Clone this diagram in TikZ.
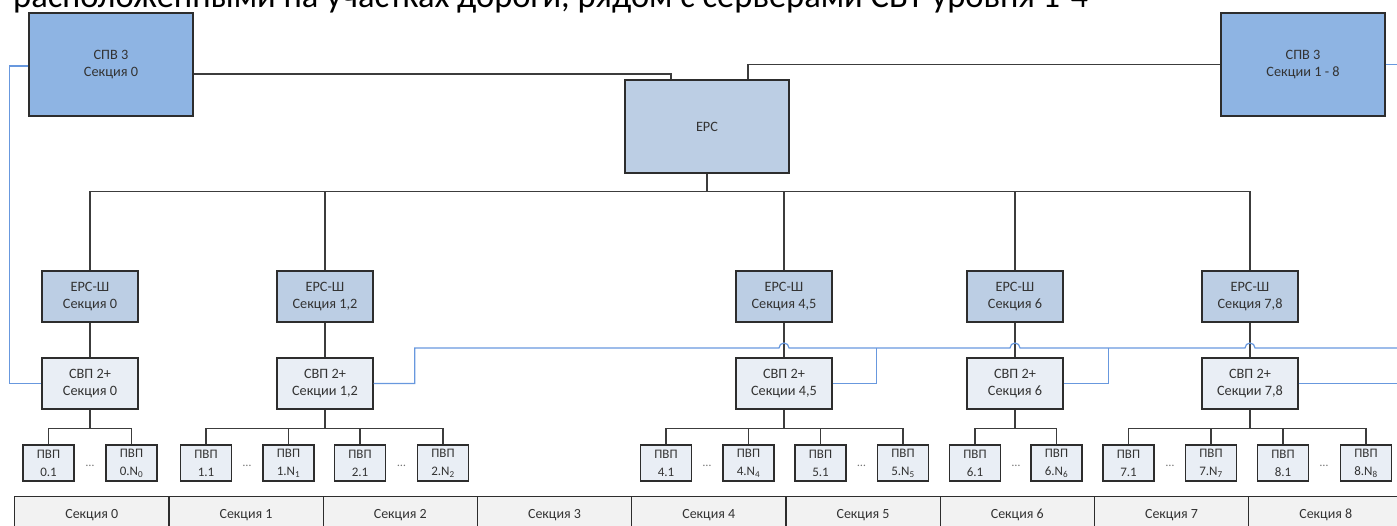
\documentclass[tikz,border=0pt]{standalone}
\usepackage{fontspec}
\setmainfont{Carlito}
\usepackage{graphicx}
\definecolor{spvc}{RGB}{142,180,227}
\definecolor{ercc}{RGB}{188,206,228}
\definecolor{svpc}{RGB}{233,238,245}
\definecolor{cellc}{RGB}{242,242,242}
\definecolor{bordc}{RGB}{45,45,45}
\definecolor{linec}{RGB}{60,60,60}
\definecolor{netc}{RGB}{104,152,222}
\tikzset{
  box/.style={draw=bordc, line width=1.3pt, inner sep=0pt, align=center, font=\fontsize{14.3}{17}\selectfont, text=black!80},
  spv/.style={box, fill=spvc, minimum width=164pt, minimum height=103pt},
  erc/.style={box, fill=ercc, minimum width=164pt, minimum height=93pt},
  ercsh/.style={box, fill=ercc, minimum width=96pt, minimum height=51pt},
  svp/.style={box, fill=svpc, minimum width=96pt, minimum height=51pt},
  pvp/.style={box, fill=svpc, minimum width=51pt, minimum height=36pt, font=\fontsize{13}{18}\selectfont},
  cell/.style={draw=bordc, line width=1.3pt, fill=cellc, inner sep=0pt, anchor=north west, minimum width=154.25pt, minimum height=38pt, text height=9.5pt, text depth=3pt, font=\fontsize{14}{17}\selectfont, text=black!80},
  conn/.style={draw=linec, line width=1.1pt},
  net/.style={draw=netc, line width=1.2pt},
  dots/.style={inner sep=0pt, font=\fontsize{12}{12}\selectfont, text=black!55}
}
\begin{document}
\begin{tikzpicture}[x=1pt,y=-1pt]
\useasboundingbox (0,0) rectangle (1397,526);
\clip (0,0) rectangle (1397,526);

% heading (cut off at the top)
\node[anchor=base west, inner sep=0pt] (title) at (13,8) {\resizebox{1075pt}{!}{\fontsize{30}{30}\selectfont расположенными на участках дороги, рядом с серверами СВТ уровня 1-4}};

% top level
\node[spv] (spvL) at (111,64.5) {СПВ 3\\Секция 0};
\node[spv] (spvR) at (1303,64.5) {СПВ 3\\Секции 1 - 8};
\node[erc] (erc) at (707,126.5) {ЕРС};

% ERC-Sh
\node[ercsh] (e0) at (90,296.5) {ЕРС-Ш\\Секция 0};
\node[ercsh] (e12) at (325,296.5) {ЕРС-Ш\\Секция 1,2};
\node[ercsh] (e45) at (784,296.5) {ЕРС-Ш\\Секция 4,5};
\node[ercsh] (e6) at (1015,296.5) {ЕРС-Ш\\Секция 6};
\node[ercsh] (e78) at (1250,296.5) {ЕРС-Ш\\Секция 7,8};

% SVP 2+
\node[svp] (s0) at (90,383.5) {СВП 2+\\Секция 0};
\node[svp] (s12) at (325,383.5) {СВП 2+\\Секции 1,2};
\node[svp] (s45) at (784,383.5) {СВП 2+\\Секции 4,5};
\node[svp] (s6) at (1015,383.5) {СВП 2+\\Секция 6};
\node[svp] (s78) at (1250,383.5) {СВП 2+\\Секции 7,8};

% PVP
\node[pvp] (p01) at (48.5,463) {ПВП\\0.1};
\node[pvp] (p0N) at (131.5,463) {ПВП\\0.N\textsubscript{0}};
\node[pvp] (p11) at (206,463) {ПВП\\1.1};
\node[pvp] (p1N) at (288.5,463) {ПВП\\1.N\textsubscript{1}};
\node[pvp] (p21) at (360,463) {ПВП\\2.1};
\node[pvp] (p2N) at (443,463) {ПВП\\2.N\textsubscript{2}};
\node[pvp] (p41) at (666,463) {ПВП\\4.1};
\node[pvp] (p4N) at (748.5,463) {ПВП\\4.N\textsubscript{4}};
\node[pvp] (p51) at (820.5,463) {ПВП\\5.1};
\node[pvp] (p5N) at (903,463) {ПВП\\5.N\textsubscript{5}};
\node[pvp] (p61) at (975,463) {ПВП\\6.1};
\node[pvp] (p6N) at (1056.5,463) {ПВП\\6.N\textsubscript{6}};
\node[pvp] (p71) at (1128.5,463) {ПВП\\7.1};
\node[pvp] (p7N) at (1211,463) {ПВП\\7.N\textsubscript{7}};
\node[pvp] (p81) at (1283,463) {ПВП\\8.1};
\node[pvp] (p8N) at (1366,463) {ПВП\\8.N\textsubscript{8}};

\node[dots] (d0) at (90,466) {…};
\node[dots] (d1) at (247,466) {…};
\node[dots] (d2) at (401.5,466) {…};
\node[dots] (d4) at (707,466) {…};
\node[dots] (d5) at (861.5,466) {…};
\node[dots] (d6) at (1016,466) {…};
\node[dots] (d7) at (1170,466) {…};
\node[dots] (d8) at (1324,466) {…};

% section table
\node[cell] (c0) at (14,496) {Секция 0};
\node[cell] (c1) at (168.25,496) {Секция 1};
\node[cell] (c2) at (322.5,496) {Секция 2};
\node[cell] (c3) at (476.75,496) {Секция 3};
\node[cell] (c4) at (631,496) {Секция 4};
\node[cell] (c5) at (785.25,496) {Секция 5};
\node[cell] (c6) at (939.5,496) {Секция 6};
\node[cell] (c7) at (1093.75,496) {Секция 7};
\node[cell] (c8) at (1248,496) {Секция 8};

% black connectors
\draw[conn] ([xshift=-36pt]erc.north) |- ([yshift=-9.5pt]spvL.east);
\draw[conn] ([xshift=41pt]erc.north) |- (spvR.west);
\foreach \n in {e0,e12,e45,e6,e78}{
  \draw[conn] (\n.north) -- ++(0,-79) -| (erc.south);
}
\draw[conn] (e0) -- (s0);
\draw[conn] (e12) -- (s12);
\draw[conn] (e45) -- (s45);
\draw[conn] (e6) -- (s6);
\draw[conn] (e78) -- (s78);
\foreach \p in {p01,p0N}{\draw[conn] (\p.north) -- ++(0,-16) -| (s0.south);}
\foreach \p in {p11,p1N,p21,p2N}{\draw[conn] (\p.north) -- ++(0,-16) -| (s12.south);}
\foreach \p in {p41,p4N,p51,p5N}{\draw[conn] (\p.north) -- ++(0,-16) -| (s45.south);}
\foreach \p in {p61,p6N}{\draw[conn] (\p.north) -- ++(0,-16) -| (s6.south);}
\foreach \p in {p71,p7N,p81,p8N}{\draw[conn] (\p.north) -- ++(0,-16) -| (s78.south);}

% blue network
\coordinate (busEnd) at (1402,348);
\coordinate (s78End) at (1402,383.5);
\coordinate (spvREnd) at (1402,64.5);
\draw[net] ([yshift=-1.5pt]spvL.west) -- ++(-19,0) |- (s0.west);
\draw[net] (s12.east) -- ++(41,0) -- ++(0,-35.5)
  -- ([xshift=-5pt]e45.south |- busEnd) arc[start angle=180, end angle=0, radius=5pt]
  -- ([xshift=-5pt]e6.south |- busEnd) arc[start angle=180, end angle=0, radius=5pt]
  -- ([xshift=-5pt]e78.south |- busEnd) arc[start angle=180, end angle=0, radius=5pt]
  -- (busEnd);
\draw[net] (s45.east) -- ++(44,0) -- ++(0,-35.5);
\draw[net] (s6.east) -- ++(45,0) -- ++(0,-35.5);
\draw[net] (s78.east) -- (s78End);
\draw[net] (spvR.east) -- (spvREnd);
\end{tikzpicture}
\end{document}
